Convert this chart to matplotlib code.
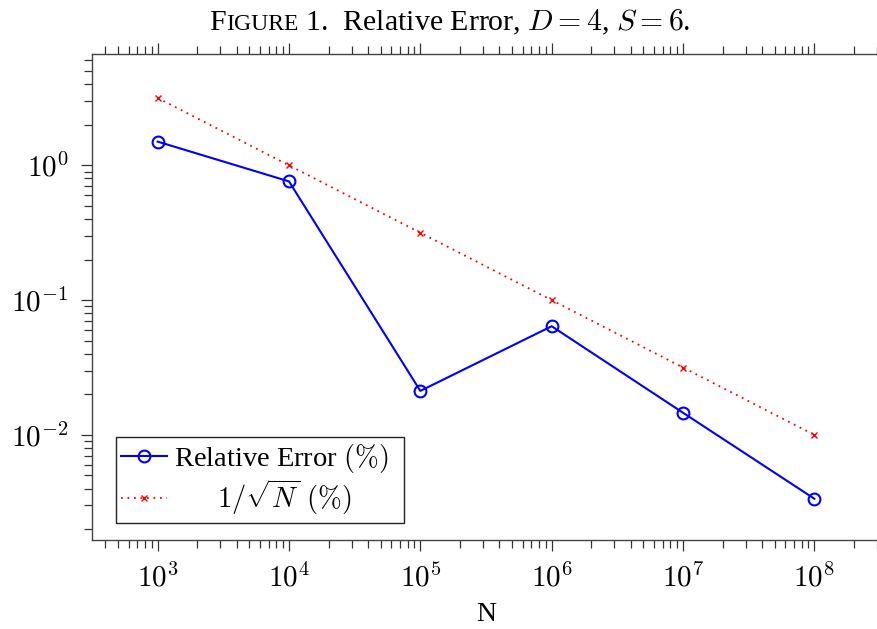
import matplotlib as mpl
import matplotlib.pyplot as plt
from matplotlib.ticker import FixedLocator, LogLocator, FuncFormatter, NullFormatter
from matplotlib.offsetbox import TextArea, HPacker, AnchoredOffsetbox
import numpy as np

mpl.rcParams['font.family'] = ['Liberation Serif', 'DejaVu Serif']
mpl.rcParams['mathtext.fontset'] = 'cm'

# sample sizes and errors (percent)
N = [1e3, 1e4, 1e5, 1e6, 1e7, 1e8]
rel_err = [1.5, 0.76, 0.0212, 0.064, 0.0146, 0.00336]
inv_sqrt = [3.162, 1.0, 0.3162, 0.1, 0.03162, 0.01]

x_major = [1e3, 1e4, 1e5, 1e6, 1e7, 1e8]
y_major = [1e-2, 1e-1, 1e0]

fig = plt.figure(figsize=(8.78, 6.29), dpi=100)
ax = fig.add_axes([92/878, 1 - 540/629, 788/878, 486.5/629])

ax.plot(N, rel_err, '-o', color='#0000ff', lw=1.5, ms=8.5, mew=1.5,
        mfc='none', label='Relative Error $(\\%)$\u00a0\u00a0')
ax.plot(N, inv_sqrt, color='#ff0000', lw=1.3, ls=(0, (1, 2.6)),
        marker='x', ms=5, mew=1.0,
        label=r'$\quad\;\;\,1/\sqrt{N}\ (\%)$')

ax.set_xscale('log')
ax.set_yscale('log')
ax.set_xlim(10**2.5, 10**8.5)
ax.set_ylim(10**-2.78, 10**0.83)

fmt = FuncFormatter(lambda v, p: r'$10^{%d}$' % round(np.log10(v)))
for axis, major in ((ax.xaxis, x_major), (ax.yaxis, y_major)):
    axis.set_major_locator(FixedLocator(major))
    axis.set_minor_locator(LogLocator(base=10, subs=np.arange(2, 10), numticks=20))
    axis.set_minor_formatter(NullFormatter())
    axis.set_major_formatter(fmt)

ax.tick_params(which='both', direction='out', top=True, right=True,
               color='#333333', width=0.9, labelsize=21)
ax.tick_params(which='major', length=8, pad=9)
ax.tick_params(which='minor', length=5.5)
for s in ax.spines.values():
    s.set_color('#444444')
    s.set_linewidth(1.0)

ax.set_xlabel('N', fontsize=20, labelpad=7)

leg = ax.legend(loc='lower left', bbox_to_anchor=(0.030, 0.035),
                borderaxespad=0, fontsize=20.5, fancybox=False,
                edgecolor='#222222', framealpha=1, handlelength=1.6,
                handletextpad=0.25, borderpad=0.2, labelspacing=0.08)
leg.get_frame().set_linewidth(1.0)

# caption-style title with small caps
parts = [TextArea('F', textprops=dict(fontsize=21.5)),
         TextArea('IGURE', textprops=dict(fontsize=17)),
         TextArea(' 1.  Relative Error, $D=4$, $S=6$.', textprops=dict(fontsize=21.5))]
box = HPacker(children=parts, align='baseline', pad=0, sep=0)
title = AnchoredOffsetbox(loc='center', child=box, frameon=False,
                          bbox_to_anchor=(450/878, 1 - 22/629),
                          bbox_transform=fig.transFigure, pad=0, borderpad=0)
fig.add_artist(title)

fig.savefig('out.png', dpi=100)
